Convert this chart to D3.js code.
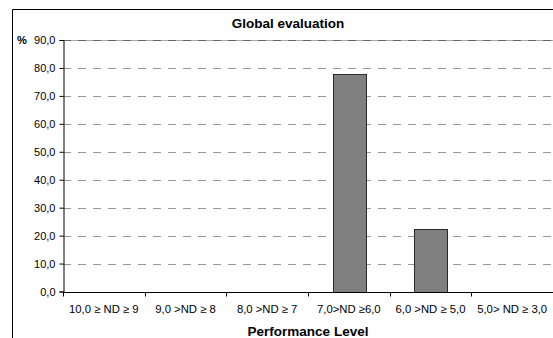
<!DOCTYPE html>
<html>
<head>
<meta charset="utf-8">
<script src="https://cdn.jsdelivr.net/npm/d3@7"></script>
<style>
  html, body { margin: 0; padding: 0; background: #fff; }
  svg { display: block; font-family: "Liberation Sans", Arial, sans-serif; }
</style>
</head>
<body>
<svg id="chart" width="553" height="338"></svg>
<script>
// Performance-level categories and share of results (%)
const categories = [
  "10,0 \u2265 ND \u2265 9",
  "9,0 >ND \u2265 8",
  "8,0 >ND \u2265 7",
  "7,0>ND \u22656,0",
  "6,0 >ND \u2265 5,0",
  "5,0> ND \u2265 3,0"
];
const values = [0, 0, 0, 77.8, 22.2, 0];
const yTicks = [0, 10, 20, 30, 40, 50, 60, 70, 80, 90];

const chartTitle = "Global evaluation";
const xTitle = "Performance Level";
const yUnit = "%";

const svg = d3.select("#chart");
const W = 553, H = 338;
const plot = { left: 63, right: 553, top: 40, bottom: 291.5 };

// Outer chart frame (extends past the visible window on right/bottom)
svg.append("path")
  .attr("d", `M12.5,${H + 5} V9.5 H${W + 5}`)
  .attr("fill", "none")
  .attr("stroke", "#000")
  .attr("stroke-width", 1);

const x = d3.scaleBand()
  .domain(categories)
  .range([plot.left, plot.right])
  .paddingInner(0)
  .paddingOuter(0);

const y = d3.scaleLinear()
  .domain([0, 90])
  .range([plot.bottom, plot.top]);

const fmt = v => d3.format(".1f")(v).replace(".", ",");

// Top edge of the plot area
svg.append("line")
  .attr("x1", plot.left).attr("x2", plot.right)
  .attr("y1", Math.round(y(90)) + 0.5).attr("y2", Math.round(y(90)) + 0.5)
  .attr("stroke", "#aaa");

// Dashed horizontal gridlines
svg.append("g")
  .selectAll("line")
  .data(yTicks.filter(d => d > 0))
  .join("line")
  .attr("x1", plot.left).attr("x2", plot.right)
  .attr("y1", d => Math.round(y(d)) + 0.5)
  .attr("y2", d => Math.round(y(d)) + 0.5)
  .attr("stroke", d => d === 90 ? "#666" : "#999")
  .attr("stroke-dasharray", "8,7");

// Bars
const barW = x.bandwidth() * 0.4;
svg.append("g")
  .selectAll("rect")
  .data(categories.map((c, i) => ({ c, v: values[i] })).filter(d => d.v > 0))
  .join("rect")
  .attr("x", d => Math.round(x(d.c) + (x.bandwidth() - barW) / 2) + 0.5)
  .attr("y", d => Math.round(y(d.v)) + 0.5)
  .attr("width", Math.round(barW))
  .attr("height", d => Math.round(y(0)) - Math.round(y(d.v)))
  .attr("fill", "#808080")
  .attr("stroke", "#2a2a2a")
  .attr("stroke-width", 1);

// Y axis
const yAxis = d3.axisLeft(y)
  .tickValues(yTicks)
  .tickFormat(fmt)
  .tickSize(4)
  .tickPadding(4);
const gy = svg.append("g")
  .attr("transform", `translate(${plot.left + 0.5},0)`)
  .call(yAxis);
gy.select(".domain").attr("stroke", "#000");
gy.selectAll(".tick line").attr("stroke", "#000");
gy.selectAll(".tick text")
  .attr("fill", "#000")
  .style("font-size", "11px")
  .style("font-family", "Liberation Sans, Arial, sans-serif");

// X axis: ticks at the category boundaries
const boundaries = categories.map(c => x(c));
const gx = svg.append("g")
  .attr("transform", `translate(0,${Math.round(plot.bottom) + 0.5})`);
gx.append("line")
  .attr("x1", plot.left).attr("x2", plot.right)
  .attr("stroke", "#000");
gx.selectAll("line.tick")
  .data(boundaries)
  .join("line")
  .attr("class", "tick")
  .attr("x1", d => Math.round(d) + 0.5).attr("x2", d => Math.round(d) + 0.5)
  .attr("y1", 0).attr("y2", 4)
  .attr("stroke", "#000");
gx.selectAll("text")
  .data(categories)
  .join("text")
  .attr("x", d => x(d) + x.bandwidth() / 2)
  .attr("y", 20)
  .attr("text-anchor", "middle")
  .style("font-size", "11.3px")
  .attr("fill", "#000")
  .text(d => d);

// Titles
svg.append("text")
  .attr("x", 288)
  .attr("y", 28)
  .attr("text-anchor", "middle")
  .style("font-size", "13.5px")
  .style("font-weight", "bold")
  .text(chartTitle);

svg.append("text")
  .attr("x", (plot.left + plot.right) / 2)
  .attr("y", 336)
  .attr("text-anchor", "middle")
  .style("font-size", "13.5px")
  .style("font-weight", "bold")
  .text(xTitle);

svg.append("text")
  .attr("x", 17)
  .attr("y", 44)
  .style("font-size", "11px")
  .style("font-weight", "bold")
  .text(yUnit);
</script>
</body>
</html>
